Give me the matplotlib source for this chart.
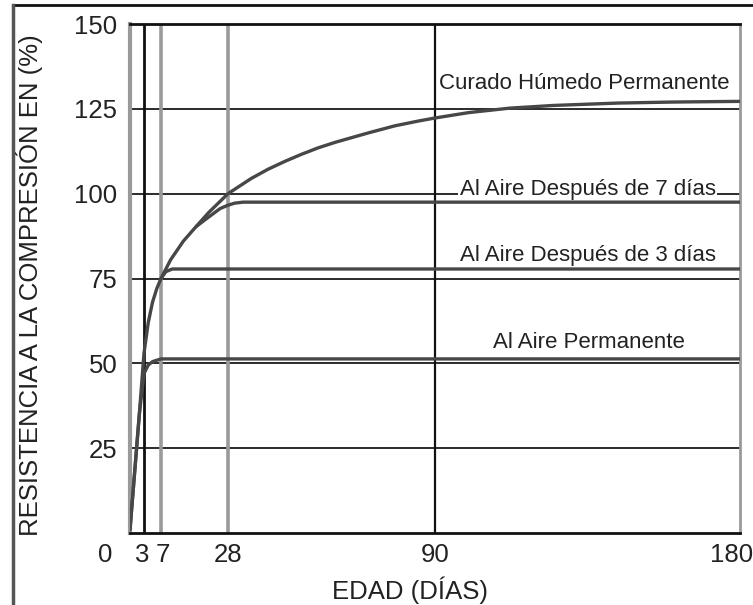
import numpy as np
import matplotlib
matplotlib.use("Agg")
import matplotlib.pyplot as plt
from matplotlib.transforms import ScaledTranslation
from matplotlib.lines import Line2D

plt.rcParams["font.family"] = ["Liberation Sans", "DejaVu Sans"]

# ---- data ----
# curado humedo permanente (main curve)
dias_humedo = [0, 1, 2, 3, 4, 5, 6, 7, 10, 14, 18, 22, 28, 35, 40, 45, 50, 55, 60,
               65, 70, 78, 85, 90, 100, 112, 125, 144, 160, 180]
res_humedo = [1, 18, 35, 53, 62, 68, 72, 75, 80.5, 86, 90.3, 94.5, 100, 104.5, 107.2,
              109.5, 111.6, 113.5, 115.1, 116.5, 117.9, 120, 121.4, 122.3, 123.9,
              125.2, 126, 126.7, 127, 127.2]

# al aire despues de 7 dias
dias_aire7 = [18, 21.5, 25.5, 28, 30, 32.5, 180]
res_aire7 = [90.3, 92.8, 95.6, 96.6, 97.2, 97.5, 97.5]

# al aire despues de 3 dias
dias_aire3 = [7, 8.5, 10.5, 180]
res_aire3 = [75, 77, 77.8, 77.8]

# al aire permanente
dias_aire = [0, 1, 2, 3, 4, 5, 7, 180]
res_aire = [1, 18, 35, 47, 49.5, 50.5, 51.3, 51.3]

x_ticks = [0, 3, 7, 28, 90, 180]
y_ticks = [25, 50, 75, 100, 125, 150]
hlines = [25, 50, 75, 100, 125]

etiquetas = ["Curado Húmedo Permanente", "Al Aire Después de 7 días",
             "Al Aire Después de 3 días", "Al Aire Permanente"]
etiqueta_x = [134, 135, 135, 135.5]
etiqueta_y = [132.4, 101.1, 81.9, 56]

# the original age axis is not quite linear, stretch it piecewise
escala_dias = [0, 3, 7, 28, 90, 180]
escala_px = [0, 14, 31, 98, 305, 610]


def fwd(x):
    return np.interp(x, escala_dias, escala_px)


def inv(x):
    return np.interp(x, escala_px, escala_dias)


fig = plt.figure(figsize=(7.53, 6.05), dpi=100)
ax = fig.add_axes([130 / 753, 1 - 533 / 605, 610 / 753, 509 / 605])
ax.set_xscale("function", functions=(fwd, inv))
ax.set_xlim(0, 180)
ax.set_ylim(0, 150)

# grid
for y in hlines:
    ax.axhline(y, color="#1a1a1a", lw=1.3, zorder=1)
ax.axvline(3, color="#111111", lw=2.0, zorder=1)
ax.axvline(7, color="#9a9a9a", lw=2.6, zorder=1)
ax.axvline(28, color="#9a9a9a", lw=2.6, zorder=1)
ax.axvline(90, color="#111111", lw=1.6, zorder=1)

curva = dict(color="#474747", lw=2.4, zorder=4, solid_capstyle="round",
             solid_joinstyle="round")
ax.plot(dias_humedo, res_humedo, **curva)
ax.plot(dias_aire7, res_aire7, **curva)
ax.plot(dias_aire3, res_aire3, **curva)
ax.plot(dias_aire, res_aire, **curva)

for txt, tx, ty in zip(etiquetas, etiqueta_x, etiqueta_y):
    ax.text(tx, ty, txt, ha="center", va="center", fontsize=16, color="#222222",
            zorder=3,
            bbox=dict(boxstyle="square,pad=0.08", facecolor="white", edgecolor="none"))

# axes frame
ax.spines["left"].set_color("#9a9a9a")
ax.spines["left"].set_linewidth(3)
ax.spines["right"].set_color("#9a9a9a")
ax.spines["right"].set_linewidth(2)
ax.spines["top"].set_color("#111111")
ax.spines["top"].set_linewidth(2)
ax.spines["bottom"].set_color("#111111")
ax.spines["bottom"].set_linewidth(2)

ax.set_xticks(x_ticks)
ax.set_xticklabels([str(v) for v in x_ticks])
ax.set_yticks(y_ticks)
ax.set_yticklabels([str(v) for v in y_ticks])
ax.minorticks_off()
ax.tick_params(axis="both", length=0, labelsize=18.5, colors="#222222")
ax.tick_params(axis="x", pad=7)
ax.tick_params(axis="y", pad=9)

# nudge a few x labels like in the original:
# "0" sits left of the corner, "3"/"7" spread a bit, "180" hugs the edge
desplaza = [-0.25, -0.02, 0.02, 0, 0, -0.08]
for lab, dx in zip(ax.get_xticklabels(), desplaza):
    lab.set_transform(lab.get_transform() + ScaledTranslation(dx, 0, fig.dpi_scale_trans))

ax.set_xlabel("EDAD (DÍAS)", fontsize=18.5, color="#222222")
ax.xaxis.set_label_coords(0.459, -0.085)
ax.set_ylabel("RESISTENCIA A LA COMPRESIÓN EN (%)", fontsize=18.5, color="#222222")
ax.yaxis.set_label_coords(-0.142, 0.487)

# outer frame of the scanned figure (top and left only)
fig.add_artist(Line2D([13 / 753, 1], [1 - 5 / 605, 1 - 5 / 605],
                      transform=fig.transFigure, color="#111111", lw=2))
fig.add_artist(Line2D([13 / 753, 13 / 753], [1 - 5 / 605, 0],
                      transform=fig.transFigure, color="#555555", lw=2.5))

fig.savefig("out.png", dpi=100, facecolor="white")
